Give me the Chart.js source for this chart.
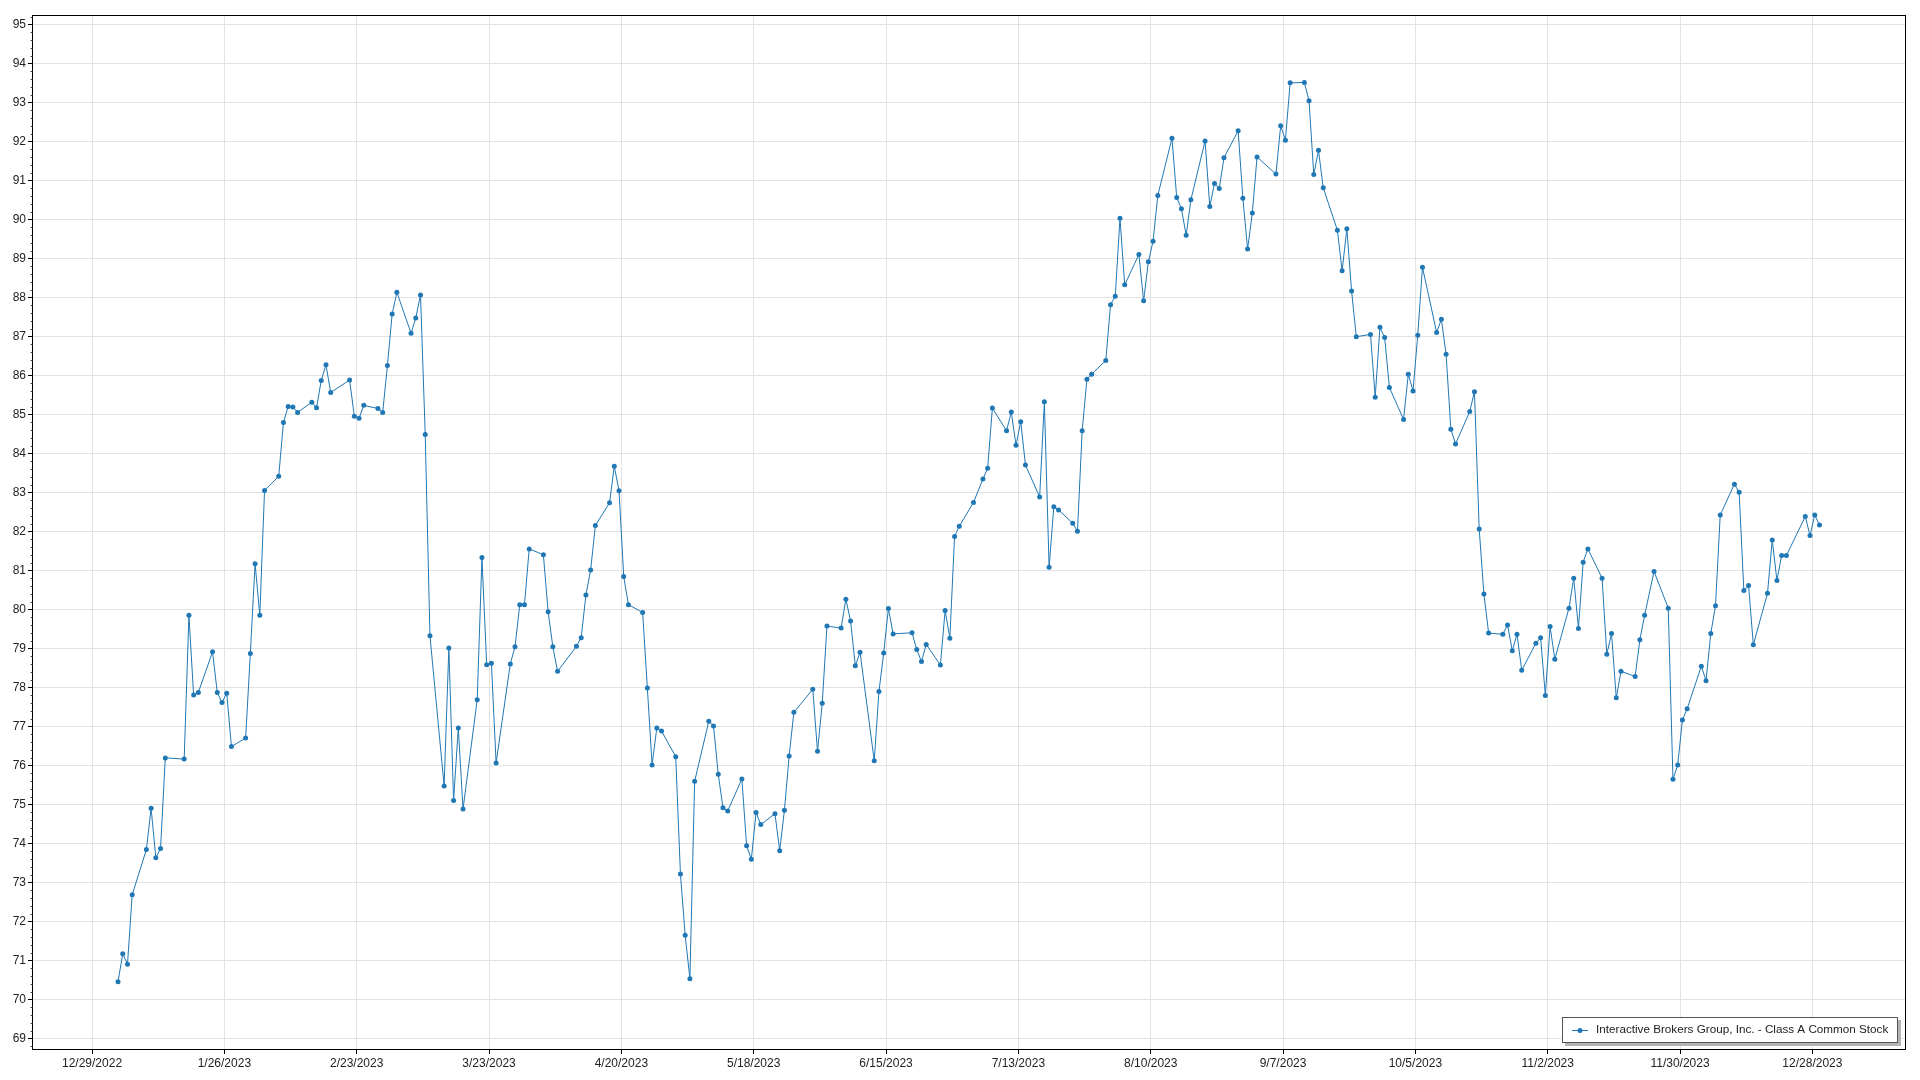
<!DOCTYPE html>
<html>
<head>
<meta charset="utf-8">
<title>IBKR 2023</title>
<script src="https://cdn.jsdelivr.net/npm/chart.js@4.4.0/dist/chart.umd.min.js"></script>
<style>
    html, body { margin: 0; padding: 0; background: #fff; }
    #wrap { width: 1920px; height: 1080px; position: relative; }
</style>
</head>
<body>
<div id="wrap"><canvas id="priceChart" width="1920" height="1080"></canvas></div>
<script>
// Series
const seriesLabel = 'Interactive Brokers Group, Inc. - Class A Common Stock';

const dates = [
    '2023-01-03','2023-01-04','2023-01-05','2023-01-06','2023-01-09','2023-01-10','2023-01-11','2023-01-12','2023-01-13',
    '2023-01-17','2023-01-18','2023-01-19','2023-01-20','2023-01-23','2023-01-24','2023-01-25','2023-01-26','2023-01-27',
    '2023-01-30','2023-01-31',
    '2023-02-01','2023-02-02','2023-02-03','2023-02-06','2023-02-07','2023-02-08','2023-02-09','2023-02-10',
    '2023-02-13','2023-02-14','2023-02-15','2023-02-16','2023-02-17','2023-02-21','2023-02-22','2023-02-23','2023-02-24',
    '2023-02-27','2023-02-28',
    '2023-03-01','2023-03-02','2023-03-03','2023-03-06','2023-03-07','2023-03-08','2023-03-09','2023-03-10',
    '2023-03-13','2023-03-14','2023-03-15','2023-03-16','2023-03-17','2023-03-20','2023-03-21','2023-03-22','2023-03-23',
    '2023-03-24','2023-03-27','2023-03-28','2023-03-29','2023-03-30','2023-03-31',
    '2023-04-03','2023-04-04','2023-04-05','2023-04-06','2023-04-10','2023-04-11','2023-04-12','2023-04-13','2023-04-14',
    '2023-04-17','2023-04-18','2023-04-19','2023-04-20','2023-04-21','2023-04-24','2023-04-25','2023-04-26','2023-04-27',
    '2023-04-28',
    '2023-05-01','2023-05-02','2023-05-03','2023-05-04','2023-05-05','2023-05-08','2023-05-09','2023-05-10','2023-05-11',
    '2023-05-12','2023-05-15','2023-05-16','2023-05-17','2023-05-18','2023-05-19','2023-05-22','2023-05-23','2023-05-24',
    '2023-05-25','2023-05-26','2023-05-30','2023-05-31',
    '2023-06-01','2023-06-02','2023-06-05','2023-06-06','2023-06-07','2023-06-08','2023-06-09','2023-06-12','2023-06-13',
    '2023-06-14','2023-06-15','2023-06-16','2023-06-20','2023-06-21','2023-06-22','2023-06-23','2023-06-26','2023-06-27',
    '2023-06-28','2023-06-29','2023-06-30',
    '2023-07-03','2023-07-05','2023-07-06','2023-07-07','2023-07-10','2023-07-11','2023-07-12','2023-07-13','2023-07-14',
    '2023-07-17','2023-07-18','2023-07-19','2023-07-20','2023-07-21','2023-07-24','2023-07-25','2023-07-26','2023-07-27',
    '2023-07-28','2023-07-31',
    '2023-08-01','2023-08-02','2023-08-03','2023-08-04','2023-08-07','2023-08-08','2023-08-09','2023-08-10','2023-08-11',
    '2023-08-14','2023-08-15','2023-08-16','2023-08-17','2023-08-18','2023-08-21','2023-08-22','2023-08-23','2023-08-24',
    '2023-08-25','2023-08-28','2023-08-29','2023-08-30','2023-08-31',
    '2023-09-01','2023-09-05','2023-09-06','2023-09-07','2023-09-08','2023-09-11','2023-09-12','2023-09-13','2023-09-14',
    '2023-09-15','2023-09-18','2023-09-19','2023-09-20','2023-09-21','2023-09-22','2023-09-25','2023-09-26','2023-09-27',
    '2023-09-28','2023-09-29',
    '2023-10-02','2023-10-03','2023-10-04','2023-10-05','2023-10-06','2023-10-09','2023-10-10','2023-10-11','2023-10-12',
    '2023-10-13','2023-10-16','2023-10-17','2023-10-18','2023-10-19','2023-10-20','2023-10-23','2023-10-24','2023-10-25',
    '2023-10-26','2023-10-27','2023-10-30','2023-10-31',
    '2023-11-01','2023-11-02','2023-11-03','2023-11-06','2023-11-07','2023-11-08','2023-11-09','2023-11-10','2023-11-13',
    '2023-11-14','2023-11-15','2023-11-16','2023-11-17','2023-11-20','2023-11-21','2023-11-22','2023-11-24','2023-11-27',
    '2023-11-28','2023-11-29','2023-11-30',
    '2023-12-01','2023-12-04','2023-12-05','2023-12-06','2023-12-07','2023-12-08','2023-12-11','2023-12-12','2023-12-13',
    '2023-12-14','2023-12-15','2023-12-18','2023-12-19','2023-12-20','2023-12-21','2023-12-22','2023-12-26','2023-12-27',
    '2023-12-28','2023-12-29'
];

const prices = [
    70.45, 71.17, 70.90, 72.68, 73.84, 74.90, 73.63, 73.87, 76.19,
    76.16, 79.85, 77.80, 77.87, 78.91, 77.87, 77.61, 77.85, 76.48,
    76.70, 78.87,
    81.17, 79.85, 83.05, 83.41, 84.79, 85.20, 85.19, 85.05,
    85.31, 85.17, 85.87, 86.27, 85.56, 85.88, 84.95, 84.90, 85.23,
    85.15, 85.05,
    86.25, 87.57, 88.13, 87.08, 87.47, 88.06, 84.48, 79.32,
    75.47, 79.01, 75.10, 76.96, 74.88, 77.68, 81.33, 78.58, 78.62,
    76.06, 78.60, 79.04, 80.12, 80.12, 81.55,
    81.40, 79.94, 79.04, 78.41, 79.05, 79.27, 80.37, 81.01, 82.15,
    82.73, 83.67, 83.04, 80.84, 80.12, 79.92, 77.98, 76.01, 76.96,
    76.88,
    76.22, 73.21, 71.64, 70.53, 75.59, 77.13, 77.01, 75.77, 74.91,
    74.83, 75.65, 73.94, 73.59, 74.79, 74.48, 74.76, 73.81, 74.85,
    76.24, 77.36, 77.95, 76.36,
    77.59, 79.57, 79.52, 80.26, 79.70, 78.55, 78.90, 76.12, 77.89,
    78.88, 80.02, 79.37, 79.40, 78.97, 78.66, 79.10, 78.57, 79.97,
    79.26, 81.87, 82.13,
    82.74, 83.34, 83.62, 85.16, 84.58, 85.06, 84.21, 84.81, 83.70,
    82.88, 85.32, 81.08, 82.63, 82.55, 82.21, 82.00, 84.58, 85.90,
    86.03, 86.38,
    87.81, 88.03, 90.03, 88.32, 89.10, 87.91, 88.91, 89.44, 90.61,
    92.08, 90.56, 90.27, 89.59, 90.50, 92.01, 90.33, 90.92, 90.79,
    91.58, 92.27, 90.54, 89.24, 90.16,
    91.60, 91.16, 92.40, 92.03, 93.50, 93.51, 93.04, 91.15, 91.77,
    90.81, 89.72, 88.68, 89.76, 88.16, 86.99, 87.05, 85.44, 87.23,
    86.97, 85.69,
    84.87, 86.03, 85.60, 87.03, 88.77, 87.10, 87.44, 86.54, 84.62,
    84.24, 85.07, 85.58, 82.06, 80.39, 79.39, 79.36, 79.60, 78.94,
    79.36, 78.44, 79.13, 79.27,
    77.79, 79.56, 78.72, 80.03, 80.80, 79.51, 81.21, 81.55, 80.80,
    78.85, 79.38, 77.73, 78.41, 78.28, 79.22, 79.85, 80.97, 80.03,
    75.64, 76.01, 77.16,
    77.45, 78.54, 78.17, 79.38, 80.09, 82.42, 83.21, 83.00, 80.48,
    80.61, 79.09, 80.41, 81.78, 80.74, 81.38, 81.38, 82.38, 81.89,
    82.42, 82.16
];

// Axis ticks
const xTickDates = [
    '2022-12-29', '2023-01-26', '2023-02-23', '2023-03-23', '2023-04-20', '2023-05-18', '2023-06-15',
    '2023-07-13', '2023-08-10', '2023-09-07', '2023-10-05', '2023-11-02', '2023-11-30', '2023-12-28'
];
const yTicks = [69, 70, 71, 72, 73, 74, 75, 76, 77, 78, 79, 80, 81, 82, 83, 84, 85, 86, 87, 88, 89, 90, 91, 92, 93, 94, 95];

const DAY = 86400000;
const lineColor = '#1f77b4';
const textColor = '#222';
const gridColor = '#e2e2e2';
const fontFamily = '"Liberation Sans", Arial, sans-serif';

function toMs(s) {
    return Date.parse(s + 'T00:00:00Z');
}

function fmtDate(ms) {
    const d = new Date(ms);
    return (d.getUTCMonth() + 1) + '/' + d.getUTCDate() + '/' + d.getUTCFullYear();
}

// axis range as shown (padding around the data)
const xMin = toMs('2022-12-29') - 12.7 * DAY;
const xMax = toMs('2022-12-29') + 383.7 * DAY;
const yMin = 68.70;
const yMax = 95.24;

// box around plot + minor ticks on the value axis
const framePlugin = {
    id: 'frame',
    afterDraw(chart) {
        const { ctx, chartArea } = chart;
        const yScale = chart.scales.y;
        ctx.save();
        ctx.strokeStyle = '#000';
        ctx.lineWidth = 1;
        const l = Math.round(chartArea.left) + 0.5;
        const t = Math.round(chartArea.top) + 0.5;
        const r = Math.round(chartArea.right) - 0.5;
        const b = Math.round(chartArea.bottom) - 0.5;
        ctx.strokeRect(l, t, r - l, b - t);

        ctx.strokeStyle = '#444';
        ctx.beginPath();
        for (let i = 0; i < (yMax - yMin) * 5 + 1; i++) {
            const v = Math.ceil(yMin * 5) / 5 + i * 0.2;
            if (v > yMax) break;
            if (Math.abs(v - Math.round(v)) < 0.01) continue;
            const py = Math.round(yScale.getPixelForValue(v)) + 0.5;
            ctx.moveTo(l - 2, py);
            ctx.lineTo(l, py);
        }
        ctx.stroke();
        ctx.restore();
    }
};

// legend box, bottom right inside the plot
const legendPlugin = {
    id: 'boxLegend',
    afterDraw(chart) {
        const { ctx } = chart;
        const label = chart.data.datasets[0].label;
        ctx.save();
        ctx.font = '11.7px ' + fontFamily;
        const tw = ctx.measureText(label).width;
        const right = 1898, top = 1017, h = 26;
        const left = Math.round(right - 10 - tw - 34);

        ctx.fillStyle = '#b4b4b4';
        ctx.fillRect(left + 3, top + 3, right - left, h);
        ctx.fillStyle = '#fff';
        ctx.fillRect(left, top, right - left, h);
        ctx.strokeStyle = '#555';
        ctx.lineWidth = 1;
        ctx.strokeRect(left + 0.5, top + 0.5, right - left - 1, h - 1);

        const cy = top + h / 2;
        ctx.strokeStyle = lineColor;
        ctx.beginPath();
        ctx.moveTo(left + 10, Math.round(cy) + 0.5);
        ctx.lineTo(left + 26, Math.round(cy) + 0.5);
        ctx.stroke();
        ctx.fillStyle = lineColor;
        ctx.beginPath();
        ctx.arc(left + 18, Math.round(cy) + 0.5, 2.5, 0, Math.PI * 2);
        ctx.fill();

        ctx.fillStyle = textColor;
        ctx.textBaseline = 'middle';
        ctx.textAlign = 'left';
        ctx.fillText(label, left + 34, cy);
        ctx.restore();
    }
};

const ctx = document.getElementById('priceChart').getContext('2d');
new Chart(ctx, {
    type: 'line',
    data: {
        datasets: [{
            label: seriesLabel,
            // samples sit at midday of each trading day
            data: dates.map((d, i) => ({ x: toMs(d) + DAY / 2, y: prices[i] })),
            borderColor: lineColor,
            backgroundColor: lineColor,
            borderWidth: 1,
            pointRadius: 2.5,
            pointBorderWidth: 0,
            pointHoverRadius: 2.5,
            tension: 0,
            fill: false
        }]
    },
    options: {
        responsive: false,
        animation: false,
        events: [],
        layout: { padding: { top: 15, right: 14.5, left: 0, bottom: 0 } },
        plugins: {
            legend: { display: false },
            tooltip: { enabled: false }
        },
        scales: {
            x: {
                type: 'linear',
                min: xMin,
                max: xMax,
                afterBuildTicks: scale => {
                    scale.ticks = xTickDates.map(d => ({ value: toMs(d) }));
                },
                afterFit: scale => { scale.height = 30; },
                ticks: {
                    callback: v => fmtDate(v),
                    color: textColor,
                    font: { family: fontFamily, size: 12 },
                    maxRotation: 0,
                    autoSkip: false,
                    padding: 2
                },
                grid: { color: gridColor, tickColor: '#000', tickLength: 4 },
                border: { display: false }
            },
            y: {
                min: yMin,
                max: yMax,
                afterBuildTicks: scale => {
                    scale.ticks = yTicks.map(v => ({ value: v }));
                },
                afterFit: scale => { scale.width = 32; },
                ticks: {
                    callback: v => String(v),
                    color: textColor,
                    font: { family: fontFamily, size: 12 },
                    padding: 2
                },
                grid: { color: gridColor, tickColor: '#000', tickLength: 4 },
                border: { display: false }
            }
        }
    },
    plugins: [framePlugin, legendPlugin]
});
</script>
</body>
</html>
